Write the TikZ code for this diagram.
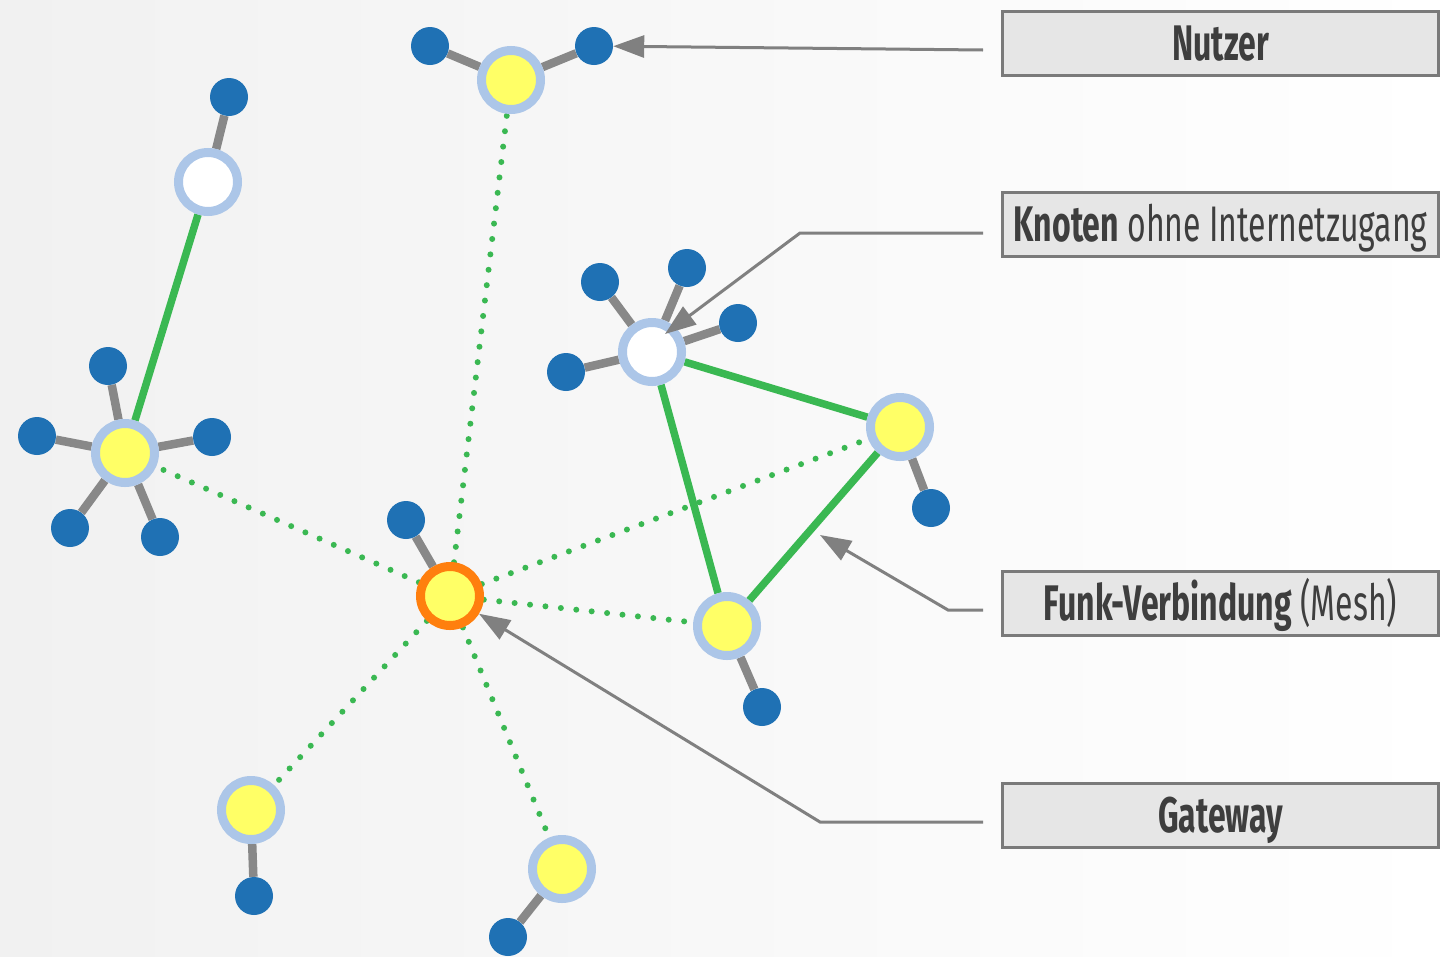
\documentclass[tikz,border=0pt]{standalone}
\usepackage{fontspec}
\usetikzlibrary{arrows.meta,calc,positioning,backgrounds}
\newfontfamily\boxfont{Fira Sans}[FakeStretch=0.64]
\definecolor{userblue}{RGB}{31,113,180}
\definecolor{nodeyellow}{RGB}{255,255,102}
\definecolor{ringblue}{RGB}{172,198,232}
\definecolor{gworange}{RGB}{255,127,14}
\definecolor{linkgrey}{RGB}{136,136,136}
\definecolor{meshgreen}{RGB}{58,184,82}
\definecolor{boxfill}{RGB}{230,230,230}
\definecolor{boxline}{RGB}{122,122,122}
\definecolor{textgrey}{RGB}{62,62,62}
\definecolor{pointgrey}{RGB}{128,128,128}
\definecolor{bgleft}{RGB}{241,241,241}

\begin{document}
\begin{tikzpicture}
[x=1pt,y=-1pt,>={Triangle[length=31pt,width=22pt]},
 user/.style={circle,fill=userblue,minimum size=38pt,inner sep=0pt},
 meshnode/.style={circle,fill=nodeyellow,draw=ringblue,line width=9pt,minimum size=59pt,inner sep=0pt},
 offline/.style={meshnode,fill=white},
 gateway/.style={meshnode,draw=gworange},
 userlink/.style={draw=linkgrey,line width=8.5pt},
 meshlink/.style={draw=meshgreen,line width=7.5pt},
 radiolink/.style={draw=meshgreen,line width=6pt,line cap=round,dash pattern=on 0pt off 15.5pt},
 legend/.style={draw=boxline,line width=3pt,fill=boxfill,minimum width=436pt,minimum height=64pt,
   inner sep=0pt,text height=34pt,text depth=0pt,text=textgrey,font=\boxfont\fontsize{50}{60}\selectfont},
 pointer/.style={draw=pointgrey,line width=3pt}]
\useasboundingbox (0,0) rectangle (1443,956);
% nodes
\node[gateway] (gw) at (450,596) {};
\node[user] (gwu) at (406,520) {};
\node[meshnode] (top) at (511,80) {};
\node[user] (topu1) at (430,46) {};
\node[user] (topu2) at (594,46) {};
\node[offline] (tl) at (208,182) {};
\node[user] (tlu) at (229,97) {};
\node[meshnode] (left) at (125,453) {};
\node[user] (leftu1) at (108,366) {};
\node[user] (leftu2) at (37,436) {};
\node[user] (leftu3) at (212,437) {};
\node[user] (leftu4) at (70,528) {};
\node[user] (leftu5) at (160,537) {};
\node[offline] (tr) at (652,352) {};
\node[user] (tru1) at (600,282) {};
\node[user] (tru2) at (687,268) {};
\node[user] (tru3) at (738,323) {};
\node[user] (tru4) at (566,372) {};
\node[meshnode] (right) at (900,427) {};
\node[user] (rightu) at (931,508) {};
\node[meshnode] (lr) at (727,626) {};
\node[user] (lru) at (762,707) {};
\node[meshnode] (bl) at (251,810) {};
\node[user] (blu) at (254,896) {};
\node[meshnode] (bot) at (562,869) {};
\node[user] (botu) at (508,937) {};
% links
\begin{scope}[on background layer]
\fill[left color=bgleft,right color=white] (0,0) rectangle (1443,956);
\foreach \a/\b in {gw/gwu,top/topu1,top/topu2,tl/tlu,left/leftu1,left/leftu2,left/leftu3,
  left/leftu4,left/leftu5,tr/tru1,tr/tru2,tr/tru3,tr/tru4,right/rightu,lr/lru,bl/blu,bot/botu}
  \draw[userlink] (\a) -- (\b);
\foreach \a/\b in {left/tl,tr/right,tr/lr,right/lr}
  \draw[meshlink] (\a) -- (\b);
\foreach \b in {top,left,right,lr,bl,bot}
  \draw[radiolink] (gw) -- (\b);
\end{scope}
% legend
\node[legend] (nutzer) at (1220.5,43.5) {\bfseries Nutzer};
\node[legend] (knoten) at (1220.5,224.5) {\textbf{Knoten} ohne Internetzugang};
\node[legend] (funk) at (1220.5,603) {\textbf{Funk-Verbindung} (Mesh)};
\node[legend] (gwlbl) at (1220.5,815) {\bfseries Gateway};
\coordinate (kBend) at (800,233);
\coordinate (kTip) at (665,334);
\coordinate (fBend) at (948,610);
\coordinate (fTip) at (820,535);
\coordinate (gBend) at (820,822);
\draw[pointer,->] ([shift={(-18,6.5)}]nutzer.west) -- (topu2);
\draw[pointer,->] ([shift={(-18,8.5)}]knoten.west) -- (kBend) -- (kTip);
\draw[pointer,->] ([shift={(-18,7)}]funk.west) -- (fBend) -- (fTip);
\draw[pointer,->] ([shift={(-18,7)}]gwlbl.west) -- (gBend) -- (gw);
\end{tikzpicture}
\end{document}
